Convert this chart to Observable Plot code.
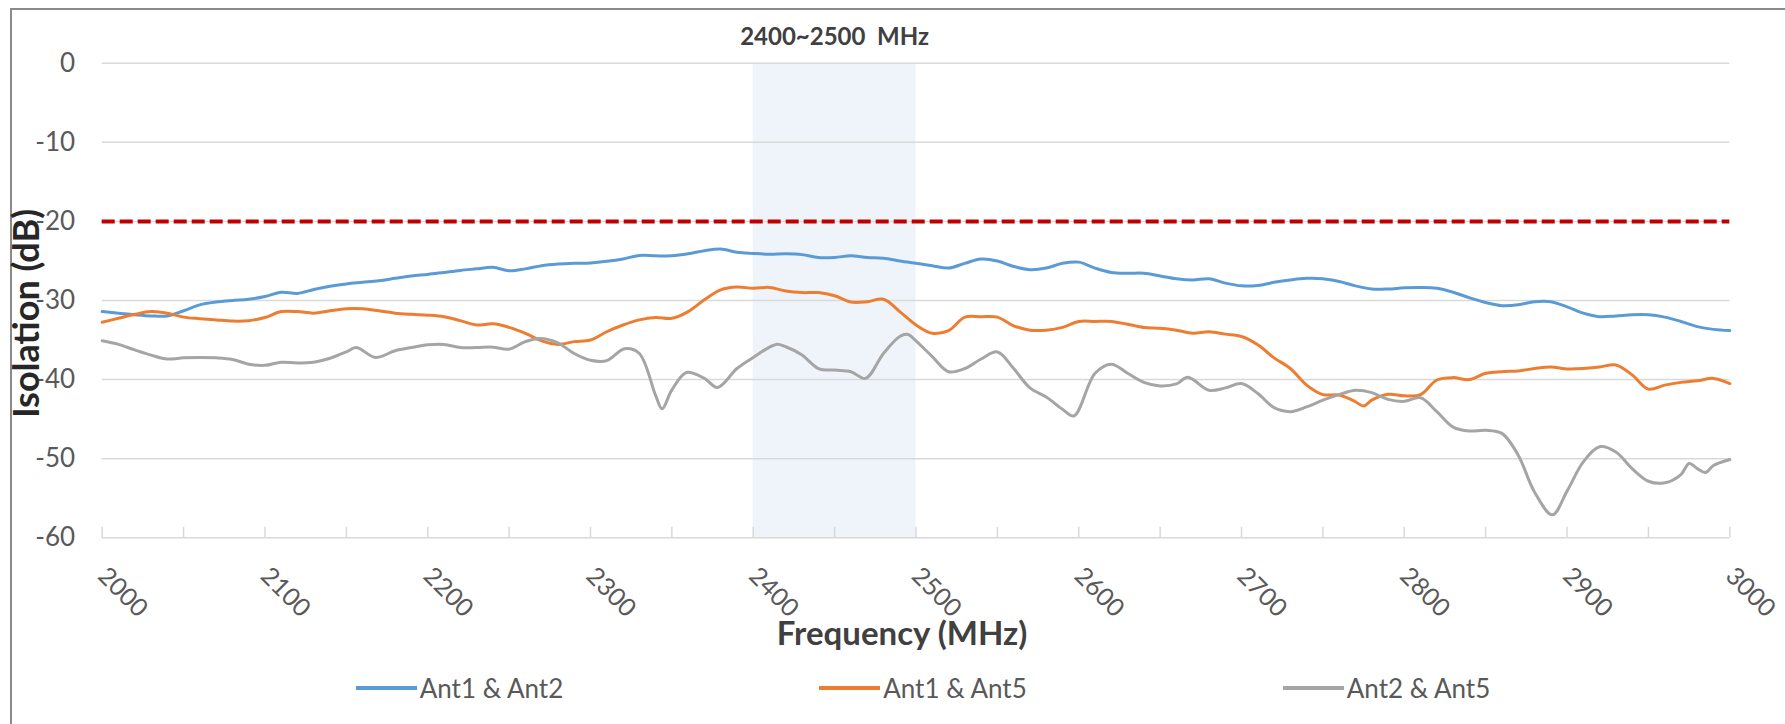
<!DOCTYPE html>
<html><head><meta charset="utf-8">
<script src="https://cdn.jsdelivr.net/npm/d3@7"></script>
<script src="https://cdn.jsdelivr.net/npm/@observablehq/plot@0.6"></script>
<style>
html,body{margin:0;padding:0;background:#fff;overflow:hidden;}
#wrap{position:relative;width:1785px;height:724px;font-family:Lato,"Noto Sans",sans-serif;}
#frame{position:absolute;left:10px;top:8px;width:1800px;height:800px;border-left:2px solid #8a8a8a;border-top:2px solid #8a8a8a;}
#chart{position:absolute;left:0;top:0;}
#legend{position:absolute;left:0;top:673px;width:1846px;display:flex;justify-content:center;gap:256px;font-size:26px;line-height:30px;color:#595959;}
.item{display:flex;align-items:center;}
.sw{width:61px;height:3.5px;margin-right:3px;}
</style></head><body><div id="wrap"><div id="frame"></div><div id="chart"></div><div id="legend"></div></div>
<script>
const seriesNames = ["Ant1 & Ant2", "Ant1 & Ant5", "Ant2 & Ant5"];
const seriesColors = ["#5B9BD5", "#ED7D31", "#A5A5A5"];

const freqA12 = [2000,2010,2020,2030,2040,2050,2060,2070,2080,2090,2100,2110,2120,2130,2140,2150,2160,2170,2180,2190,
  2200,2210,2220,2230,2240,2250,2260,2270,2280,2290,2300,2310,2320,2330,2340,2350,2360,2370,2380,2390,
  2400,2410,2420,2430,2440,2450,2460,2470,2480,2490,2500,2510,2520,2530,2540,2550,2560,2570,2580,2590,
  2600,2610,2620,2630,2640,2650,2660,2670,2680,2690,2700,2710,2720,2730,2740,2750,2760,2770,2780,2790,
  2800,2810,2820,2830,2840,2850,2860,2870,2880,2890,2900,2910,2920,2930,2940,2950,2960,2970,2980,2990,3000];
const dbA12 = [-31.4,-31.6,-31.8,-31.95,-31.95,-31.3,-30.55,-30.2,-30.0,-29.85,-29.5,-28.95,-29.1,-28.6,-28.2,-27.9,-27.7,-27.5,-27.2,-26.9,
  -26.7,-26.45,-26.2,-26.0,-25.8,-26.25,-26.0,-25.6,-25.4,-25.3,-25.25,-25.05,-24.75,-24.3,-24.35,-24.35,-24.1,-23.7,-23.5,-23.9,
  -24.05,-24.15,-24.1,-24.2,-24.55,-24.55,-24.35,-24.55,-24.65,-25.0,-25.3,-25.6,-25.9,-25.3,-24.75,-25.0,-25.7,-26.1,-25.9,-25.3,
  -25.15,-25.9,-26.45,-26.55,-26.55,-26.9,-27.25,-27.4,-27.25,-27.8,-28.15,-28.1,-27.7,-27.4,-27.2,-27.25,-27.6,-28.15,-28.55,-28.55,
  -28.4,-28.35,-28.45,-28.95,-29.65,-30.25,-30.65,-30.55,-30.15,-30.15,-30.8,-31.6,-32.05,-31.95,-31.8,-31.8,-32.1,-32.65,-33.3,-33.65,-33.8];

const freqA15 = [2000,2010,2020,2030,2040,2050,2060,2070,2080,2090,2100,2110,2120,2130,2140,2150,2160,2170,2180,2190,
  2200,2210,2220,2230,2240,2250,2260,2270,2280,2290,2300,2310,2320,2330,2340,2350,2360,2370,2380,2390,
  2400,2410,2420,2430,2440,2450,2460,2470,2480,2490,2500,2510,2520,2530,2540,2550,2560,2570,2580,2590,
  2600,2610,2620,2630,2640,2650,2660,2670,2680,2690,2700,2710,2720,2730,2740,2750,2760,2770,2775,2780,2790,
  2800,2810,2820,2830,2840,2850,2860,2870,2880,2890,2900,2910,2920,2930,2940,2950,2960,2970,2980,2990,3000];
const dbA15 = [-32.75,-32.25,-31.75,-31.4,-31.6,-32.1,-32.3,-32.45,-32.6,-32.55,-32.15,-31.4,-31.4,-31.6,-31.3,-31.05,-31.05,-31.3,-31.6,-31.75,
  -31.85,-32.05,-32.55,-33.1,-32.95,-33.4,-34.15,-35.1,-35.55,-35.2,-35.0,-33.95,-33.1,-32.45,-32.15,-32.25,-31.4,-29.9,-28.65,-28.3,
  -28.45,-28.35,-28.8,-29.0,-29.0,-29.4,-30.2,-30.15,-29.85,-31.4,-33.1,-34.15,-33.8,-32.1,-32.05,-32.1,-33.2,-33.75,-33.75,-33.4,
  -32.65,-32.65,-32.65,-33.0,-33.4,-33.5,-33.75,-34.15,-33.95,-34.25,-34.55,-35.6,-37.25,-38.6,-40.7,-41.9,-41.95,-42.8,-43.35,-42.6,-41.85,
  -42.05,-41.9,-40.05,-39.75,-40.0,-39.2,-39.0,-38.9,-38.6,-38.4,-38.65,-38.6,-38.4,-38.15,-39.4,-41.2,-40.7,-40.35,-40.15,-39.85,-40.5];

const freqA25 = [2000,2010,2020,2030,2040,2050,2060,2070,2080,2090,2100,2110,2120,2130,2140,2150,2156,2168,2180,2190,
  2200,2210,2220,2230,2240,2250,2260,2269,2280,2290,2300,2310,2321,2330,2340,2344,2350,2359,2370,2378,2390,
  2400,2414,2420,2430,2440,2450,2460,2469,2480,2490,2495,2500,2510,2520,2530,2540,2550,2560,2570,2580,2590,2597,
  2610,2620,2630,2640,2650,2660,2667,2680,2690,2700,2710,2720,2730,2740,2750,2760,2770,2780,2790,
  2800,2810,2820,2830,2840,2850,2860,2870,2880,2891,2900,2910,2920,2930,2940,2950,2960,2970,2975,2980,2985,2990,3000];
const dbA25 = [-35.1,-35.55,-36.25,-36.9,-37.4,-37.25,-37.2,-37.25,-37.45,-38.05,-38.2,-37.8,-37.9,-37.8,-37.3,-36.5,-35.95,-37.2,-36.35,-35.95,
  -35.6,-35.55,-35.95,-35.95,-35.9,-36.15,-35.2,-34.8,-35.35,-36.7,-37.55,-37.6,-36.1,-36.7,-42.0,-43.7,-41.3,-39.1,-39.85,-41.0,-38.6,
  -37.2,-35.55,-35.85,-36.9,-38.6,-38.8,-39.0,-39.85,-36.7,-34.55,-34.3,-35.1,-37.1,-39.0,-38.6,-37.4,-36.5,-38.6,-41.05,-42.2,-43.75,-44.6,
  -39.2,-38.05,-39.2,-40.35,-40.8,-40.55,-39.7,-41.35,-41.05,-40.5,-41.75,-43.55,-44.05,-43.45,-42.6,-41.9,-41.35,-41.65,-42.5,
  -42.75,-42.3,-44.05,-46.0,-46.5,-46.4,-46.8,-49.55,-54.2,-57.1,-54.1,-50.4,-48.5,-49.15,-51.25,-52.85,-53.05,-52.0,-50.6,-51.25,-51.75,-50.85,-50.1];

const xTicks = [2000,2100,2200,2300,2400,2500,2600,2700,2800,2900,3000];
const xTickMarks = [2000,2050,2100,2150,2200,2250,2300,2350,2400,2450,2500,2550,2600,2650,2700,2750,2800,2850,2900,2950,3000];
const yTicks = [0,-10,-20,-30,-40,-50,-60];
const limitDb = -20;
const bandStart = 2400, bandEnd = 2500;
const bandLabel = "2400~2500  MHz";
const xTitle = "Frequency (MHz)";
const yTitle = "Isolation (dB)";

const freqs = [freqA12, freqA15, freqA25];
const dbs = [dbA12, dbA15, dbA25];
const data = seriesNames.flatMap((s, i) => freqs[i].map((f, j) => ({s, f, v: dbs[i][j]})));

const W = 1785, H = 660;
const mL = 101.7, mR = 55.7, mT = 62.7, mB = H - 537.3;
const yMin = d3.min(yTicks), yMax = d3.max(yTicks);
const tickLenDb = 10.5 / (H - mT - mB) * (yMax - yMin);

const chart = Plot.plot({
  width: W, height: H,
  marginLeft: mL, marginRight: mR, marginTop: mT, marginBottom: mB,
  x: {domain: [d3.min(xTicks), d3.max(xTicks)]},
  y: {domain: [yMin, yMax]},
  color: {domain: seriesNames, range: seriesColors},
  style: {fontFamily: "Lato, 'Noto Sans', sans-serif", background: "transparent", overflow: "visible"},
  marks: [
    Plot.rect([{x1: bandStart, x2: bandEnd}], {x1: "x1", x2: "x2", y1: () => yMin, y2: () => yMax, fill: "#EEF4FA"}),
    Plot.ruleY(yTicks, {stroke: "#D9D9D9", strokeWidth: 1.5}),
    Plot.ruleX(xTickMarks, {y1: () => yMin, y2: () => yMin + tickLenDb, stroke: "#D9D9D9", strokeWidth: 1.5}),
    Plot.ruleY([limitDb], {stroke: "#C00000", strokeWidth: 4, strokeDasharray: "13,5"}),
    Plot.line(data, {x: "f", y: "v", z: "s", stroke: "s", strokeWidth: 3, curve: "catmull-rom"}),
    Plot.axisX(xTicks, {tickSize: 0, tickRotate: 45, tickPadding: 34, fontSize: 25, fill: "#595959", tickFormat: d => String(d), label: null}),
    Plot.axisY(yTicks, {tickSize: 0, tickPadding: 27, fontSize: 26, fill: "#595959", tickFormat: d => String(d), label: null}),
    Plot.text([yTitle], {frameAnchor: "left", textAnchor: "middle", lineAnchor: "middle", rotate: -90, dx: -75, dy: 13, fontSize: 36, fontWeight: "bold", fill: "#262626"}),
    Plot.text([xTitle], {frameAnchor: "bottom", textAnchor: "middle", lineAnchor: "middle", dx: -14, dy: 97, fontSize: 33, fontWeight: "bold", fill: "#404040"}),
    Plot.text([bandLabel], {x: () => (bandStart + bandEnd) / 2, frameAnchor: "top", lineAnchor: "middle", dy: -26, fontSize: 24, fontWeight: "bold", fill: "#404040"})
  ]
});
document.getElementById("chart").appendChild(chart);

const legend = d3.select("#legend");
seriesNames.forEach((s, i) => {
  const it = legend.append("div").attr("class", "item");
  it.append("div").attr("class", "sw").style("background", seriesColors[i]);
  it.append("span").text(s);
});
</script></body></html>
